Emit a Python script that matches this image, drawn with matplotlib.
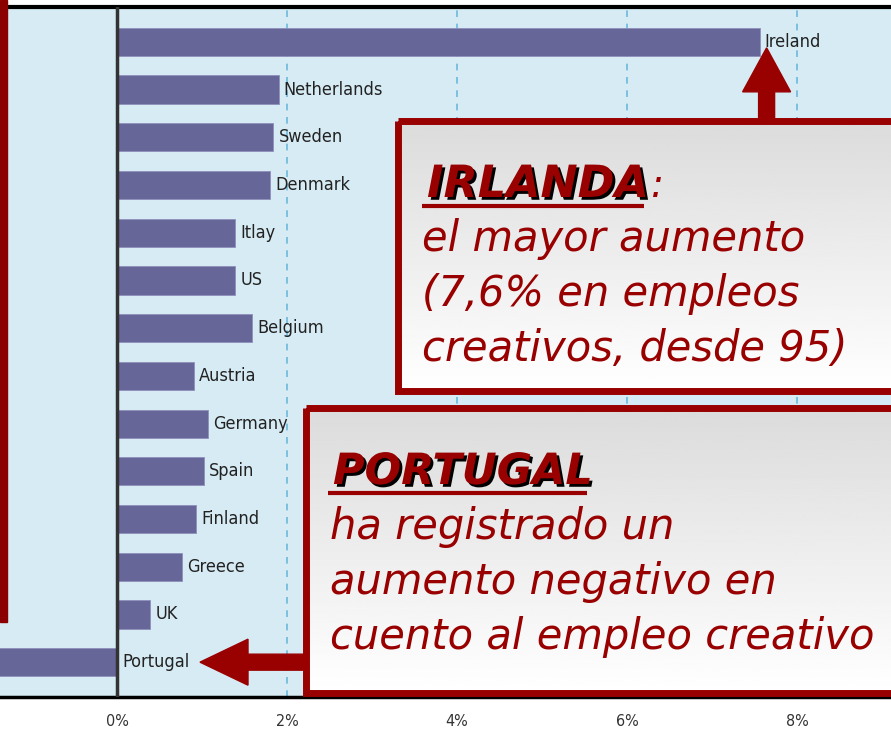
import matplotlib.pyplot as plt
import numpy as np
from matplotlib.patches import Rectangle, FancyArrow
import matplotlib.patheffects as pe

countries = ["Ireland", "Netherlands", "Sweden", "Denmark", "Itlay", "US", "Belgium",
             "Austria", "Germany", "Spain", "Finland", "Greece", "UK", "Portugal"]
growth = [7.56, 1.9, 1.84, 1.8, 1.39, 1.39, 1.59, 0.9, 1.07, 1.02, 0.93, 0.76, 0.39, -1.5]
xticks = [0, 2, 4, 6, 8]
xtick_labels = ["0%", "2%", "4%", "6%", "8%"]

DARKRED = "#990000"

fig = plt.figure(figsize=(8.91, 7.38), dpi=100)
ax = fig.add_axes([0, 41 / 738, 1, 690 / 738])
ax.set_facecolor("#d6ebf4")

pos = np.arange(len(countries))
ax.barh(pos, growth, height=0.59, color="#676699", edgecolor="#8f8fbb", lw=0.6, zorder=3)
ax.set_xlim(-117 / 85, 774 / 85)
ax.set_ylim(len(countries) - 1 + 0.73, -0.73)

for x in xticks[1:]:
    ax.axvline(x, color="#6cb8dc", ls=(0, (4, 4)), lw=1.2, zorder=1)
ax.axvline(0, color="#333333", lw=2.5, zorder=4)

for i, (c, v) in enumerate(zip(countries, growth)):
    ax.text(max(v, 0) + 0.06, i, c, va="center", ha="left", fontsize=13,
            fontstretch="condensed", color="#222222", zorder=5)

ax.set_yticks([])
ax.set_xticks(xticks)
ax.set_xticklabels(xtick_labels, fontsize=11.5, fontstretch="condensed", color="#333333")
ax.tick_params(axis="x", length=0, pad=12)
for s in ["left", "right"]:
    ax.spines[s].set_visible(False)
ax.spines["top"].set_linewidth(3)
ax.spines["bottom"].set_linewidth(2.5)

# overlay in pixel coordinates for the callouts
ov = fig.add_axes([0, 0, 1, 1], facecolor="none")
ov.axis("off")

grad = np.linspace(0.86, 1.0, 100).reshape(-1, 1)


def callout(x0, y0, x1, y1):
    ov.imshow(grad, cmap="gray", vmin=0, vmax=1, extent=[x0, x1, y1, y0],
              aspect="auto", zorder=6)
    ov.add_patch(Rectangle((x0, y0), x1 - x0, y1 - y0, fill=False,
                           edgecolor=DARKRED, lw=5, zorder=7))


callout(398, 121, 900, 391)
callout(306, 408, 900, 693)
ov.set_xlim(0, 891)
ov.set_ylim(738, 0)


def to_px(x, y):
    dx, dy = ax.transData.transform((x, y))
    return dx, 738 - dy


# left edge bar
ov.add_patch(Rectangle((0, 0), 7, 622, color="#8b0000", zorder=7))

# arrows
ix, iy = to_px(growth[0], 0)
ov.add_patch(FancyArrow(ix + 7, 121, 0, -(121 - iy - 6), width=16, head_width=48,
                        head_length=44, length_includes_head=True,
                        color=DARKRED, zorder=7))
px, py = to_px(0, len(countries) - 1)
ov.add_patch(FancyArrow(306, py, -(306 - 200), 0, width=16, head_width=46,
                        head_length=48, length_includes_head=True,
                        color=DARKRED, zorder=7))

fig.canvas.draw()
renderer = fig.canvas.get_renderer()
shadow = [pe.withSimplePatchShadow(offset=(2, -2), shadow_rgbFace="black", alpha=1)]


def heading(x, y, txt, size, colon=False):
    t = ov.text(x, y, txt, fontsize=size, fontweight="bold", style="italic",
                color=DARKRED, zorder=9, va="baseline", path_effects=shadow)
    w = t.get_window_extent(renderer).width
    ov.plot([x - 5, x - 5 + w], [y + 9, y + 9], color=DARKRED, lw=3, zorder=9,
            solid_capstyle="butt", path_effects=shadow)
    if colon:
        ov.text(x + w + 2, y, ":", fontsize=size - 4, style="italic", color=DARKRED,
                zorder=9, va="baseline")


heading(427, 197, "IRLANDA", 32, colon=True)
body1 = ["el mayor aumento", "(7,6% en empleos", "creativos, desde 95)"]
for k, line in enumerate(body1):
    ov.text(422, 251 + 55 * k, line, fontsize=30, style="italic", color=DARKRED,
            zorder=9, va="baseline")

heading(333, 484, "PORTUGAL", 31)
body2 = ["ha registrado un", "aumento negativo en", "cuento al empleo creativo"]
for k, line in enumerate(body2):
    ov.text(330, 539 + 55 * k, line, fontsize=30, style="italic", color=DARKRED,
            zorder=9, va="baseline")

fig.savefig("out.png", dpi=100, facecolor="white")
